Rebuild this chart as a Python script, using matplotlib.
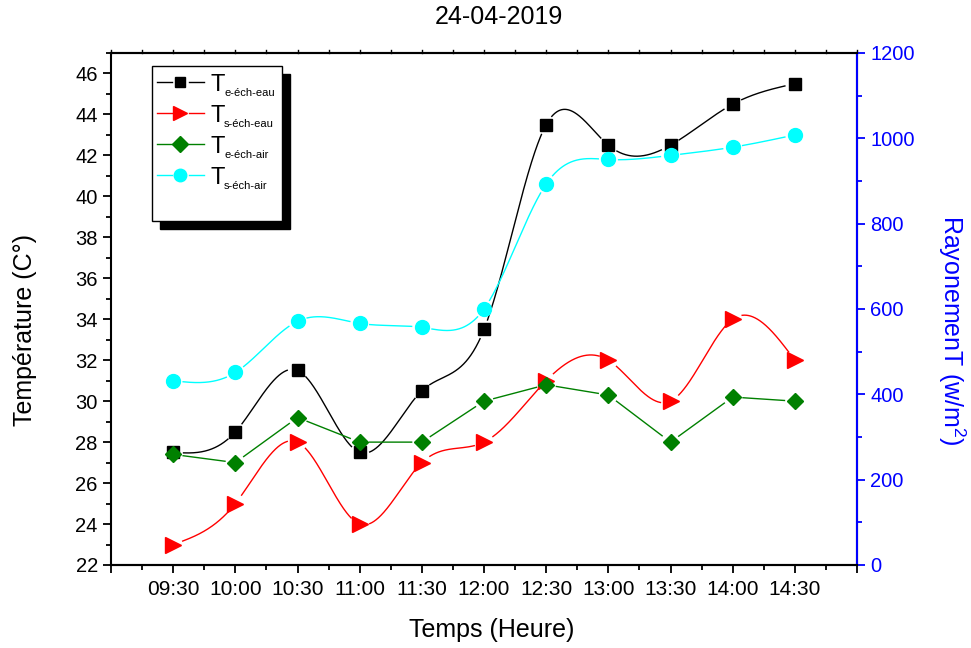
import numpy as np
import matplotlib
matplotlib.use("Agg")
import matplotlib.pyplot as plt
from matplotlib.lines import Line2D
from matplotlib.patches import Rectangle
from matplotlib.ticker import MultipleLocator, FixedLocator

plt.rcParams['font.family'] = ['Liberation Sans', 'DejaVu Sans']
plt.rcParams['mathtext.fontset'] = 'custom'
plt.rcParams['mathtext.rm'] = 'Liberation Sans'

# data
heures = ['09:30', '10:00', '10:30', '11:00', '11:30', '12:00',
          '12:30', '13:00', '13:30', '14:00', '14:30']
te_eau = [27.5, 28.5, 31.5, 27.5, 30.5, 33.5, 43.5, 42.5, 42.5, 44.5, 45.5]
ts_eau = [23.0, 25.0, 28.0, 24.0, 27.0, 28.0, 31.0, 32.0, 30.0, 34.0, 32.0]
te_air = [27.4, 27.0, 29.2, 28.0, 28.0, 30.0, 30.8, 30.3, 28.0, 30.2, 30.0]
ts_air = [31.0, 31.4, 33.9, 33.8, 33.6, 34.5, 40.6, 41.8, 42.0, 42.4, 43.0]
noms = ['e-éch-eau', 's-éch-eau', 'e-éch-air', 's-éch-air']

W, H = 971, 648
fig = plt.figure(figsize=(W / 100, H / 100), dpi=100)


def fx(px):
    return px / W


def fy(py):
    return 1 - py / H


ax = fig.add_axes([fx(111), fy(565), fx(857) - fx(111), fy(53) - fy(565)])
ax2 = ax.twinx()

x = np.arange(1, len(heures) + 1)
ax.set_xlim(0, 12)
ax.set_ylim(22, 47)
ax2.set_ylim(0, 1200)


def spline_nat(xk, yk, xs):
    # natural cubic spline (Origin "spline" connection)
    xk = np.asarray(xk, float)
    yk = np.asarray(yk, float)
    n = len(xk)
    h = np.diff(xk)
    A = np.zeros((n, n))
    b = np.zeros(n)
    A[0, 0] = A[-1, -1] = 1
    for i in range(1, n - 1):
        A[i, i - 1] = h[i - 1]
        A[i, i] = 2 * (h[i - 1] + h[i])
        A[i, i + 1] = h[i]
        b[i] = 6 * ((yk[i + 1] - yk[i]) / h[i] - (yk[i] - yk[i - 1]) / h[i - 1])
    M = np.linalg.solve(A, b)
    idx = np.clip(np.searchsorted(xk, xs) - 1, 0, n - 2)
    x0, x1 = xk[idx], xk[idx + 1]
    hh = x1 - x0
    t0 = x1 - xs
    t1 = xs - x0
    return (M[idx] * t0 ** 3 / (6 * hh) + M[idx + 1] * t1 ** 3 / (6 * hh)
            + (yk[idx] / hh - M[idx] * hh / 6) * t0
            + (yk[idx + 1] / hh - M[idx + 1] * hh / 6) * t1)


def gapped(xs, ys, xk, yk, r=10):
    # leave a small gap around each marker, like Origin does
    tr = ax.transData
    p = tr.transform(np.column_stack([xs, ys]))
    m = tr.transform(np.column_stack([xk, yk]))
    d = np.min(np.hypot(p[:, None, 0] - m[None, :, 0], p[:, None, 1] - m[None, :, 1]), axis=1)
    ys = np.array(ys, float)
    ys[d < r] = np.nan
    return ys


series = [
    (te_eau, 'black', 's', 8.5, True),
    (ts_eau, 'red', '>', 11, True),
    (te_air, 'green', 'D', 8.5, False),
    (ts_air, 'cyan', 'o', 10, True),
]

xs = np.linspace(1, 11, 1500)
for vals, col, mk, ms, smooth in series:
    if smooth:
        ys = spline_nat(x, vals, xs)
    else:
        ys = np.interp(xs, x, vals)
    ax.plot(xs, gapped(xs, ys, x, vals), color=col, lw=1.0, zorder=2)
    ax.plot(x, vals, ls='none', marker=mk, ms=ms, color=col, mec=col, zorder=3)

# axes styling
ax.xaxis.set_major_locator(FixedLocator(np.arange(0, 13)))
ax.xaxis.set_minor_locator(MultipleLocator(0.5))
ax.set_xticklabels([''] + heures + [''])
ax.set_yticks(np.arange(22, 47, 2))
ax.yaxis.set_minor_locator(MultipleLocator(1))
ax.set_ylim(22, 47)
ax2.yaxis.set_major_locator(MultipleLocator(200))
ax2.yaxis.set_minor_locator(MultipleLocator(100))

for a in (ax, ax2):
    for s in a.spines.values():
        s.set_linewidth(1.5)
ax.tick_params(axis='both', which='major', direction='out', length=6, width=1.3,
               labelsize=14.5)
ax.tick_params(axis='both', which='minor', direction='out', length=3.5, width=1.3)
ax.tick_params(axis='x', which='major', labelsize=15, pad=5)
ax.tick_params(axis='x', which='both', top=False)
ax2.spines['right'].set_color('blue')
ax2.spines['left'].set_visible(False)
ax2.tick_params(axis='y', which='major', direction='out', length=6, width=1.3,
                colors='blue', labelsize=14.5)
ax2.tick_params(axis='y', which='minor', direction='out', length=3.5, width=1.3, colors='blue')

# tiny ticks along the top border
for t in np.arange(0, 12.01, 0.5):
    ax.plot([t, t], [1, 1.006], transform=ax.get_xaxis_transform(), color='black',
            lw=1, clip_on=False)

fig.text(fx(499), fy(17), '24-04-2019', ha='center', va='center', fontsize=18)
fig.text(fx(492), fy(630), 'Temps (Heure)', ha='center', va='center', fontsize=18)
fig.text(fx(25), fy(330), 'Température (C°)', ha='center', va='center',
         rotation=90, fontsize=18)
fig.text(fx(952), fy(330), 'RayonemenT (w/m$^{2}$)', ha='center', va='center',
         rotation=270, fontsize=18, color='blue')

# Origin-style legend with a black drop shadow
fig.add_artist(Rectangle((fx(160), fy(229)), fx(290) - fx(160), fy(74) - fy(229),
                         transform=fig.transFigure, facecolor='black', edgecolor='black',
                         zorder=10))
fig.add_artist(Rectangle((fx(152), fy(221)), fx(282) - fx(152), fy(66) - fy(221),
                         transform=fig.transFigure, facecolor='white', edgecolor='black',
                         lw=1, zorder=11))
for i, (vals, col, mk, ms, smooth) in enumerate(series):
    yc = 82 + 31 * i
    fig.add_artist(Line2D([fx(157), fx(172)], [fy(yc), fy(yc)], color=col, lw=1,
                          transform=fig.transFigure, zorder=12))
    fig.add_artist(Line2D([fx(189), fx(204)], [fy(yc), fy(yc)], color=col, lw=1,
                          transform=fig.transFigure, zorder=12))
    fig.add_artist(Line2D([fx(180)], [fy(yc)], ls='none', marker=mk, ms=ms * 0.9,
                          color=col, transform=fig.transFigure, zorder=12))
    fig.text(fx(210), fy(yc + 9), 'T', fontsize=17, va='baseline', ha='left', zorder=12)
    fig.text(fx(224), fy(yc + 14), noms[i], fontsize=8, va='baseline', ha='left',
             zorder=12)

fig.savefig('out.png', dpi=100)
